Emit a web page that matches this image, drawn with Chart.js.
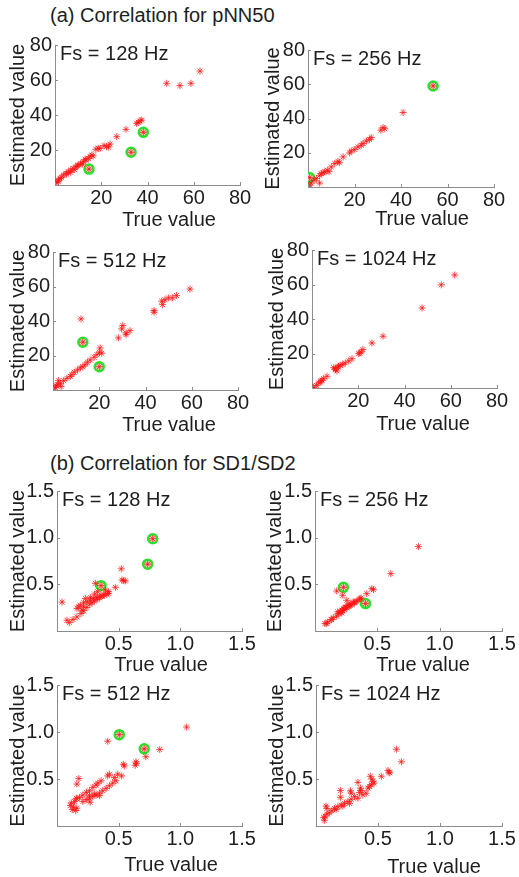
<!DOCTYPE html>
<html>
<head>
<meta charset="utf-8">
<script src="https://cdn.jsdelivr.net/npm/chart.js@4.4.1/dist/chart.umd.min.js"></script>
<style>
  body { margin: 0; background: #fff; }
  #page { position: relative; width: 519px; height: 877px; overflow: hidden; font-family: "Liberation Sans", Arial, sans-serif; color: #1e1e1e; }
  .sect { position: absolute; left: 50px; font-size: 20px; line-height: 24px; white-space: nowrap; }
  canvas { position: absolute; }
</style>
</head>
<body>
<div id="page">
  <div class="sect" style="top:3px">(a) Correlation for pNN50</div>
  <div class="sect" style="top:451px">(b) Correlation for SD1/SD2</div>
</div>
<script>
// [true, estimated] pairs
const pnn128 = [[0.7,1.3],[1.4,1.9],[2.2,3.8],[1.4,2.9],[2.8,4.2],[3.6,5.7],[4.8,6.7],[5.0,6.2],[5.8,7.6],[6.8,8.6],[6.8,7.2],[7.9,9.5],[8.5,8.8],[9.1,10.5],[9.8,11.0],[10.1,11.4],[11.1,12.4],[11.8,11.9],[12.3,13.3],[13.0,14.7],[13.4,14.3],[14.4,15.2],[15.2,16.2],[15.9,17.1],[16.5,16.6],[17.7,20.4],[18.7,21.0],[19.5,20.9],[21.2,22.5],[22.3,21.9],[23.1,21.7],[23.8,23.4],[26.7,27.6],[30.7,31.8],[35.3,35.2],[36.0,35.8],[36.8,36.7],[37.5,37.1],[48.3,58.1],[54.0,56.8],[58.8,58.1],[62.7,65.1]];
const pnn128Hi = [[14.7,9.1],[32.9,18.7],[38.2,30.1]];

const pnn256 = [[0,0],[0.7,1.0],[1.4,2.3],[2.6,3.9],[3.6,4.9],[5.0,6.8],[5.0,2.3],[5.7,7.8],[6.5,8.3],[7.2,8.8],[8.3,9.8],[9.0,9.0],[10.0,11.7],[11.5,13.7],[12.9,15.0],[13.5,14.2],[15.1,17.6],[17.9,19.9],[18.6,21.1],[20.1,21.9],[21.5,23.4],[22.9,24.4],[23.7,25.4],[25.1,26.9],[26.5,27.7],[27.2,28.9],[31.3,33.2],[32.3,34.7],[33.0,34.0],[40.9,43.5]];
const pnn256Hi = [[0.7,5.5],[53.8,59.0]];

const pnn512 = [[0.3,0.6],[1.0,1.5],[1.4,2.5],[2.0,3.1],[2.4,5.4],[3.2,3.9],[3.5,2.0],[4.6,5.4],[6.0,6.8],[7.5,7.9],[8.2,8.9],[9.2,10.3],[10.6,11.6],[11.8,12.8],[12.9,13.5],[13.9,14.7],[14.9,16.1],[16.1,17.4],[17.8,19.0],[19.0,20.5],[20.1,21.9],[21.1,21.3],[20.4,24.4],[12.1,41.2],[28.3,30.2],[29.7,35.4],[30.2,37.4],[31.6,32.1],[31.6,33.1],[33.3,34.4],[43.7,46.1],[43.7,45.1],[47.0,51.5],[47.4,49.5],[48.4,52.3],[49.9,53.4],[51.7,53.4],[53.4,54.8],[59.2,58.5]];
const pnn512Hi = [[12.9,27.7],[20.0,13.5]];

const pnn1024 = [[0,0.3],[0.7,0.5],[1.9,1.5],[2.9,2.9],[3.6,3.5],[4.0,4.1],[4.3,4.5],[5.0,5.4],[6.5,6.8],[9.4,11.8],[10.1,11.2],[10.1,10.6],[10.8,9.9],[11.2,12.2],[11.5,12.6],[12.2,13.2],[13.3,13.7],[14.4,14.5],[15.9,15.7],[17.3,17.0],[20.2,19.9],[20.6,20.3],[21.3,20.9],[22.0,22.3],[25.9,26.1],[30.7,30.0],[47.6,46.4],[55.9,59.8],[61.7,65.5]];
const pnn1024Hi = [];

const sd128 = [[0.041,0.31],[0.081,0.115],[0.100,0.090],[0.130,0.123],[0.162,0.151],[0.195,0.188],[0.216,0.216],[0.162,0.242],[0.189,0.277],[0.216,0.302],[0.243,0.313],[0.270,0.331],[0.297,0.349],[0.324,0.360],[0.351,0.374],[0.378,0.385],[0.405,0.396],[0.419,0.403],[0.203,0.223],[0.216,0.259],[0.243,0.252],[0.265,0.288],[0.284,0.302],[0.303,0.320],[0.324,0.338],[0.346,0.356],[0.365,0.374],[0.384,0.385],[0.392,0.439],[0.419,0.421],[0.270,0.360],[0.230,0.349],[0.176,0.259],[0.305,0.396],[0.330,0.421],[0.311,0.511],[0.473,0.468],[0.521,0.666],[0.527,0.547],[0.541,0.540],[0.554,0.536]];
const sd128Hi = [[0.357,0.486],[0.735,0.716],[0.776,0.989]];

const sd256 = [[0.080,0.079],[0.094,0.079],[0.102,0.096],[0.129,0.121],[0.134,0.122],[0.147,0.143],[0.174,0.158],[0.182,0.204],[0.188,0.186],[0.201,0.204],[0.209,0.204],[0.214,0.193],[0.215,0.222],[0.220,0.221],[0.228,0.239],[0.236,0.229],[0.241,0.251],[0.247,0.257],[0.255,0.246],[0.263,0.275],[0.273,0.264],[0.281,0.275],[0.282,0.293],[0.295,0.282],[0.308,0.311],[0.316,0.300],[0.322,0.311],[0.335,0.318],[0.354,0.336],[0.362,0.347],[0.370,0.354],[0.174,0.429],[0.222,0.383],[0.255,0.329],[0.415,0.400],[0.456,0.454],[0.469,0.443],[0.608,0.615],[0.830,0.905]];
const sd256Hi = [[0.228,0.468],[0.405,0.294]];

const sd512 = [[0.108,0.218],[0.116,0.246],[0.124,0.175],[0.134,0.200],[0.142,0.260],[0.151,0.165],[0.156,0.295],[0.161,0.288],[0.161,0.189],[0.161,0.446],[0.177,0.505],[0.183,0.305],[0.210,0.330],[0.210,0.260],[0.237,0.358],[0.237,0.281],[0.263,0.375],[0.263,0.295],[0.263,0.323],[0.269,0.253],[0.290,0.411],[0.290,0.316],[0.304,0.340],[0.317,0.435],[0.317,0.330],[0.331,0.456],[0.344,0.351],[0.344,0.323],[0.358,0.481],[0.371,0.375],[0.398,0.400],[0.411,0.533],[0.425,0.551],[0.425,0.428],[0.452,0.456],[0.465,0.516],[0.478,0.481],[0.492,0.551],[0.524,0.533],[0.538,0.656],[0.546,0.639],[0.411,0.902],[0.634,0.646],[0.640,0.681],[0.645,0.667],[0.720,0.737],[0.833,0.814],[1.051,1.053]];
const sd512Hi = [[0.505,0.972],[0.707,0.821]];

const sd1024 = [[0.062,0.090],[0.068,0.061],[0.073,0.104],[0.081,0.212],[0.089,0.126],[0.089,0.187],[0.108,0.140],[0.127,0.162],[0.149,0.187],[0.162,0.176],[0.176,0.205],[0.197,0.378],[0.197,0.306],[0.203,0.223],[0.216,0.212],[0.230,0.241],[0.257,0.259],[0.270,0.241],[0.278,0.374],[0.284,0.349],[0.284,0.284],[0.311,0.313],[0.338,0.464],[0.338,0.295],[0.351,0.356],[0.359,0.403],[0.365,0.378],[0.378,0.331],[0.405,0.349],[0.419,0.403],[0.432,0.421],[0.438,0.529],[0.446,0.439],[0.451,0.500],[0.459,0.475],[0.468,0.457],[0.527,0.529],[0.581,0.590],[0.589,0.572],[0.595,0.565],[0.649,0.817],[0.689,0.683]];
const sd1024Hi = [];

const fsLabels = ["Fs = 128 Hz", "Fs = 256 Hz", "Fs = 512 Hz", "Fs = 1024 Hz"];
const pnnTicks = [0, 80, 20];   // min, max, step
const sdTicks = [0, 1.5, 0.5];

// page geometry: plot box [left, top, right, bottom], y title x, x title [x, y]
const panels = [
  {fs: fsLabels[0], pts: pnn128, hi: pnn128Hi, rng: pnnTicks, box: [55, 45, 240, 185], yT: 18, xT: [169, 220]},
  {fs: fsLabels[1], pts: pnn256, hi: pnn256Hi, rng: pnnTicks, box: [308, 50, 494, 187], yT: 273, xT: [422, 219]},
  {fs: fsLabels[2], pts: pnn512, hi: pnn512Hi, rng: pnnTicks, box: [53, 252, 238, 390], yT: 18, xT: [169, 425]},
  {fs: fsLabels[3], pts: pnn1024, hi: pnn1024Hi, rng: pnnTicks, box: [312, 250, 497, 388], yT: 277, xT: [423, 424]},
  {fs: fsLabels[0], pts: sd128, hi: sd128Hi, rng: sdTicks, box: [57, 491, 242, 631], yT: 18, xT: [161, 665]},
  {fs: fsLabels[1], pts: sd256, hi: sd256Hi, rng: sdTicks, box: [315, 491, 502, 631], yT: 275, xT: [423, 665]},
  {fs: fsLabels[2], pts: sd512, hi: sd512Hi, rng: sdTicks, box: [57, 685, 242, 826], yT: 18, xT: [171, 865]},
  {fs: fsLabels[3], pts: sd1024, hi: sd1024Hi, rng: sdTicks, box: [316, 685, 502, 826], yT: 277, xT: [434, 867]},
];

const FONT = "Liberation Sans";
const TEXT = "#1e1e1e";
const AXIS = "#8c8c8c";

const panelText = {
  id: "panelText",
  afterDraw(chart, args, o) {
    const {ctx, chartArea: a, scales: {x, y}} = chart;
    ctx.save();
    ctx.strokeStyle = AXIS;
    ctx.lineWidth = 1;
    ctx.beginPath();
    x.ticks.forEach(t => {
      const px = Math.round(x.getPixelForValue(t.value)) + 0.5;
      ctx.moveTo(px, a.bottom); ctx.lineTo(px, a.bottom - 3);
    });
    y.ticks.forEach(t => {
      const py = Math.round(y.getPixelForValue(t.value)) + 0.5;
      ctx.moveTo(a.left, py); ctx.lineTo(a.left + 3, py);
    });
    ctx.stroke();
    ctx.fillStyle = TEXT;
    ctx.font = `20px "${FONT}"`;
    ctx.textBaseline = "middle";
    ctx.textAlign = "left";
    ctx.fillText(o.fs, a.left + 5, a.top + 9);
    ctx.textAlign = "center";
    ctx.fillText("True value", o.tx, o.ty);
    ctx.restore();
  }
};

const page = document.getElementById("page");

for (const p of panels) {
  const [L, T, R, B] = p.box;
  const cL = Math.round(p.yT - 12), cT = T - 20, cR = R + 20, cB = p.xT[1] + 14;
  const cv = document.createElement("canvas");
  cv.width = cR - cL; cv.height = cB - cT;
  cv.style.left = cL + "px"; cv.style.top = cT + "px";
  page.appendChild(cv);

  const [mn, mx, step] = p.rng;
  const fmt = v => v === 0 ? "" : (step < 1 ? v.toFixed(1) : String(v));
  const tickFont = {family: FONT, size: 20};

  new Chart(cv.getContext("2d"), {
    type: "scatter",
    data: {
      datasets: [
        {
          data: p.pts.concat(p.hi).map(([x, y]) => ({x, y})),
          pointStyle: "star", pointRadius: 3.5, borderWidth: 1,
          borderColor: "rgba(255,20,20,0.75)", backgroundColor: "rgba(255,20,20,0.75)"
        },
        {
          data: p.hi.map(([x, y]) => ({x, y})),
          pointStyle: "circle", pointRadius: 4.5, borderWidth: 2.5,
          borderColor: "rgb(40,225,40)", backgroundColor: "rgb(255,200,200)"
        }
      ]
    },
    options: {
      responsive: false,
      animation: false,
      events: [],
      layout: {padding: {left: 0, top: T - cT, right: cR - R, bottom: 0}},
      plugins: {
        legend: {display: false},
        tooltip: {enabled: false},
        panelText: {fs: p.fs, tx: p.xT[0] - cL, ty: p.xT[1] - cT}
      },
      scales: {
        x: {
          type: "linear", min: mn, max: mx,
          grid: {display: false, drawTicks: false},
          border: {display: true, color: AXIS, width: 1},
          ticks: {stepSize: step, padding: 1, color: TEXT, font: tickFont, maxRotation: 0, callback: fmt},
          afterFit: s => { s.height = cB - B; }
        },
        y: {
          type: "linear", min: mn, max: mx,
          grid: {display: false, drawTicks: false},
          border: {display: true, color: AXIS, width: 1},
          ticks: {stepSize: step, padding: 3, color: TEXT, font: tickFont, callback: fmt},
          title: {display: true, text: "Estimated value", color: TEXT, font: {family: FONT, size: 20}, padding: 0},
          afterFit: s => { s.width = L - cL; }
        }
      }
    },
    plugins: [panelText]
  });
}
</script>
</body>
</html>
